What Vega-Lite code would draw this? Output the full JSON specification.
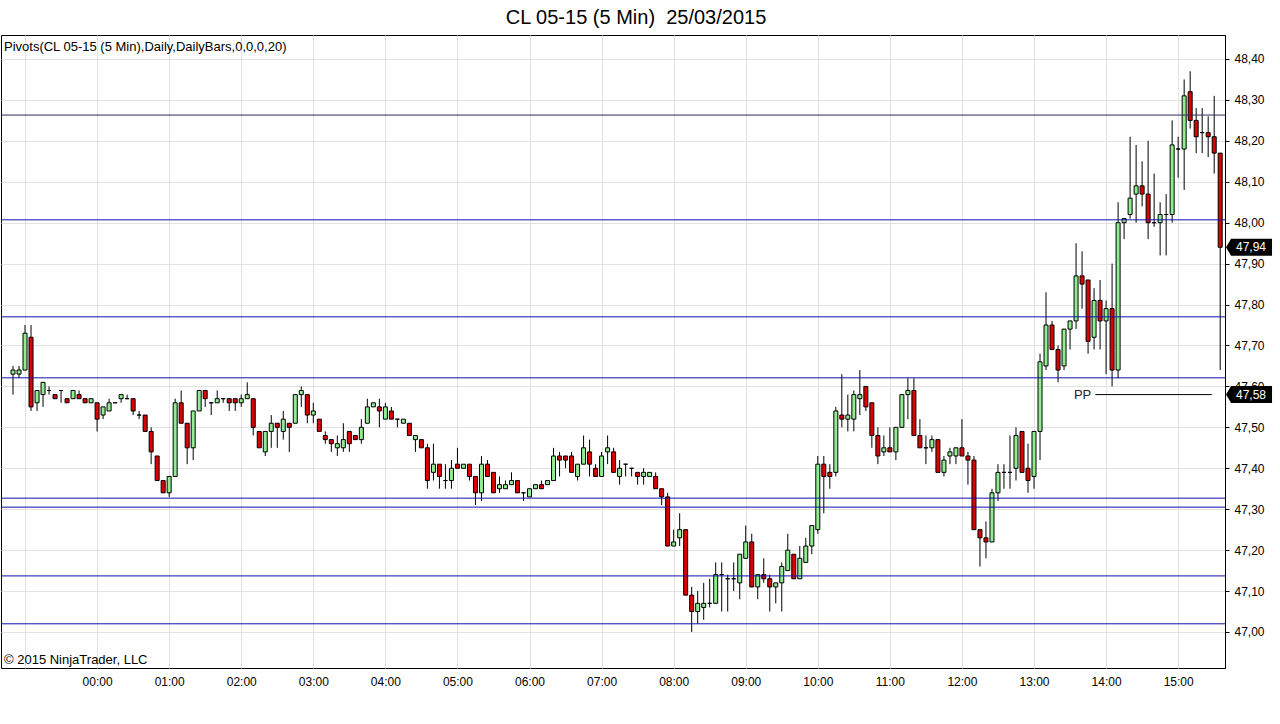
{
"$schema": "https://vega.github.io/schema/vega-lite/v6.json",
"width": 1224,
"height": 633,
"autosize": "none",
"padding": {"left": 1, "top": 35, "right": 55, "bottom": 56},
"background": "white",
"title": {"text": "CL 05-15 (5 Min)\u00a0 25/03/2015", "font": "Liberation Sans", "fontSize": 20, "fontWeight": "normal", "color": "#000", "anchor": "middle", "dx": 23, "offset": 7},
"config": {"view": {"stroke": "#000", "strokeWidth": 1}, "font": "Liberation Sans"},
"datasets": {
"bars": [
{"t":"2015-03-24T22:50","o":47.63,"h":47.65,"l":47.58,"c":47.64},
{"t":"2015-03-24T22:55","o":47.63,"h":47.65,"l":47.62,"c":47.64},
{"t":"2015-03-24T23:00","o":47.64,"h":47.75,"l":47.64,"c":47.73},
{"t":"2015-03-24T23:05","o":47.72,"h":47.75,"l":47.54,"c":47.55},
{"t":"2015-03-24T23:10","o":47.56,"h":47.59,"l":47.54,"c":47.59},
{"t":"2015-03-24T23:15","o":47.58,"h":47.61,"l":47.55,"c":47.61},
{"t":"2015-03-24T23:20","o":47.59,"h":47.60,"l":47.58,"c":47.59},
{"t":"2015-03-24T23:25","o":47.58,"h":47.58,"l":47.57,"c":47.57},
{"t":"2015-03-24T23:30","o":47.59,"h":47.59,"l":47.56,"c":47.59},
{"t":"2015-03-24T23:35","o":47.57,"h":47.57,"l":47.56,"c":47.56},
{"t":"2015-03-24T23:40","o":47.57,"h":47.59,"l":47.57,"c":47.59},
{"t":"2015-03-24T23:45","o":47.58,"h":47.59,"l":47.57,"c":47.57},
{"t":"2015-03-24T23:50","o":47.57,"h":47.57,"l":47.56,"c":47.56},
{"t":"2015-03-24T23:55","o":47.56,"h":47.57,"l":47.56,"c":47.57},
{"t":"2015-03-25T00:00","o":47.56,"h":47.56,"l":47.49,"c":47.52},
{"t":"2015-03-25T00:05","o":47.53,"h":47.55,"l":47.52,"c":47.55},
{"t":"2015-03-25T00:10","o":47.54,"h":47.57,"l":47.54,"c":47.56},
{"t":"2015-03-25T00:15","o":47.56,"h":47.56,"l":47.56,"c":47.56},
{"t":"2015-03-25T00:20","o":47.57,"h":47.58,"l":47.56,"c":47.58},
{"t":"2015-03-25T00:25","o":47.57,"h":47.58,"l":47.57,"c":47.57},
{"t":"2015-03-25T00:30","o":47.57,"h":47.57,"l":47.53,"c":47.54},
{"t":"2015-03-25T00:35","o":47.53,"h":47.54,"l":47.52,"c":47.53},
{"t":"2015-03-25T00:40","o":47.53,"h":47.53,"l":47.49,"c":47.49},
{"t":"2015-03-25T00:45","o":47.49,"h":47.50,"l":47.41,"c":47.44},
{"t":"2015-03-25T00:50","o":47.43,"h":47.43,"l":47.37,"c":47.37},
{"t":"2015-03-25T00:55","o":47.37,"h":47.37,"l":47.34,"c":47.34},
{"t":"2015-03-25T01:00","o":47.34,"h":47.38,"l":47.33,"c":47.38},
{"t":"2015-03-25T01:05","o":47.38,"h":47.57,"l":47.38,"c":47.56},
{"t":"2015-03-25T01:10","o":47.56,"h":47.59,"l":47.51,"c":47.51},
{"t":"2015-03-25T01:15","o":47.51,"h":47.51,"l":47.41,"c":47.45},
{"t":"2015-03-25T01:20","o":47.45,"h":47.54,"l":47.42,"c":47.54},
{"t":"2015-03-25T01:25","o":47.54,"h":47.59,"l":47.54,"c":47.59},
{"t":"2015-03-25T01:30","o":47.59,"h":47.59,"l":47.55,"c":47.57},
{"t":"2015-03-25T01:35","o":47.56,"h":47.56,"l":47.53,"c":47.56},
{"t":"2015-03-25T01:40","o":47.56,"h":47.59,"l":47.56,"c":47.57},
{"t":"2015-03-25T01:45","o":47.57,"h":47.57,"l":47.56,"c":47.57},
{"t":"2015-03-25T01:50","o":47.57,"h":47.57,"l":47.54,"c":47.56},
{"t":"2015-03-25T01:55","o":47.57,"h":47.57,"l":47.54,"c":47.56},
{"t":"2015-03-25T02:00","o":47.56,"h":47.58,"l":47.55,"c":47.57},
{"t":"2015-03-25T02:05","o":47.57,"h":47.61,"l":47.57,"c":47.58},
{"t":"2015-03-25T02:10","o":47.57,"h":47.57,"l":47.48,"c":47.50},
{"t":"2015-03-25T02:15","o":47.49,"h":47.49,"l":47.45,"c":47.45},
{"t":"2015-03-25T02:20","o":47.44,"h":47.49,"l":47.43,"c":47.49},
{"t":"2015-03-25T02:25","o":47.49,"h":47.53,"l":47.45,"c":47.51},
{"t":"2015-03-25T02:30","o":47.51,"h":47.51,"l":47.45,"c":47.50},
{"t":"2015-03-25T02:35","o":47.49,"h":47.54,"l":47.47,"c":47.52},
{"t":"2015-03-25T02:40","o":47.51,"h":47.51,"l":47.44,"c":47.50},
{"t":"2015-03-25T02:45","o":47.51,"h":47.58,"l":47.51,"c":47.58},
{"t":"2015-03-25T02:50","o":47.58,"h":47.60,"l":47.55,"c":47.59},
{"t":"2015-03-25T02:55","o":47.58,"h":47.58,"l":47.51,"c":47.53},
{"t":"2015-03-25T03:00","o":47.53,"h":47.56,"l":47.51,"c":47.54},
{"t":"2015-03-25T03:05","o":47.52,"h":47.52,"l":47.49,"c":47.49},
{"t":"2015-03-25T03:10","o":47.48,"h":47.49,"l":47.46,"c":47.47},
{"t":"2015-03-25T03:15","o":47.47,"h":47.47,"l":47.44,"c":47.46},
{"t":"2015-03-25T03:20","o":47.45,"h":47.48,"l":47.43,"c":47.46},
{"t":"2015-03-25T03:25","o":47.45,"h":47.51,"l":47.44,"c":47.47},
{"t":"2015-03-25T03:30","o":47.49,"h":47.49,"l":47.44,"c":47.46},
{"t":"2015-03-25T03:35","o":47.48,"h":47.48,"l":47.47,"c":47.47},
{"t":"2015-03-25T03:40","o":47.47,"h":47.52,"l":47.46,"c":47.50},
{"t":"2015-03-25T03:45","o":47.51,"h":47.57,"l":47.51,"c":47.55},
{"t":"2015-03-25T03:50","o":47.55,"h":47.56,"l":47.55,"c":47.56},
{"t":"2015-03-25T03:55","o":47.55,"h":47.57,"l":47.50,"c":47.54},
{"t":"2015-03-25T04:00","o":47.52,"h":47.56,"l":47.52,"c":47.55},
{"t":"2015-03-25T04:05","o":47.54,"h":47.55,"l":47.52,"c":47.52},
{"t":"2015-03-25T04:10","o":47.52,"h":47.52,"l":47.50,"c":47.52},
{"t":"2015-03-25T04:15","o":47.51,"h":47.52,"l":47.51,"c":47.52},
{"t":"2015-03-25T04:20","o":47.51,"h":47.51,"l":47.48,"c":47.48},
{"t":"2015-03-25T04:25","o":47.47,"h":47.48,"l":47.44,"c":47.48},
{"t":"2015-03-25T04:30","o":47.47,"h":47.47,"l":47.45,"c":47.45},
{"t":"2015-03-25T04:35","o":47.45,"h":47.46,"l":47.35,"c":47.37},
{"t":"2015-03-25T04:40","o":47.39,"h":47.46,"l":47.37,"c":47.41},
{"t":"2015-03-25T04:45","o":47.41,"h":47.41,"l":47.35,"c":47.38},
{"t":"2015-03-25T04:50","o":47.37,"h":47.41,"l":47.35,"c":47.37},
{"t":"2015-03-25T04:55","o":47.37,"h":47.42,"l":47.35,"c":47.40},
{"t":"2015-03-25T05:00","o":47.41,"h":47.45,"l":47.40,"c":47.40},
{"t":"2015-03-25T05:05","o":47.40,"h":47.41,"l":47.40,"c":47.41},
{"t":"2015-03-25T05:10","o":47.41,"h":47.41,"l":47.37,"c":47.38},
{"t":"2015-03-25T05:15","o":47.38,"h":47.38,"l":47.31,"c":47.34},
{"t":"2015-03-25T05:20","o":47.34,"h":47.43,"l":47.32,"c":47.41},
{"t":"2015-03-25T05:25","o":47.41,"h":47.42,"l":47.38,"c":47.38},
{"t":"2015-03-25T05:30","o":47.39,"h":47.39,"l":47.34,"c":47.34},
{"t":"2015-03-25T05:35","o":47.35,"h":47.38,"l":47.34,"c":47.36},
{"t":"2015-03-25T05:40","o":47.35,"h":47.37,"l":47.35,"c":47.36},
{"t":"2015-03-25T05:45","o":47.36,"h":47.39,"l":47.36,"c":47.37},
{"t":"2015-03-25T05:50","o":47.37,"h":47.37,"l":47.34,"c":47.34},
{"t":"2015-03-25T05:55","o":47.34,"h":47.34,"l":47.32,"c":47.34},
{"t":"2015-03-25T06:00","o":47.33,"h":47.35,"l":47.33,"c":47.35},
{"t":"2015-03-25T06:05","o":47.35,"h":47.36,"l":47.35,"c":47.36},
{"t":"2015-03-25T06:10","o":47.36,"h":47.37,"l":47.35,"c":47.35},
{"t":"2015-03-25T06:15","o":47.36,"h":47.37,"l":47.36,"c":47.37},
{"t":"2015-03-25T06:20","o":47.37,"h":47.45,"l":47.37,"c":47.43},
{"t":"2015-03-25T06:25","o":47.43,"h":47.44,"l":47.38,"c":47.42},
{"t":"2015-03-25T06:30","o":47.43,"h":47.43,"l":47.40,"c":47.42},
{"t":"2015-03-25T06:35","o":47.43,"h":47.44,"l":47.39,"c":47.39},
{"t":"2015-03-25T06:40","o":47.38,"h":47.41,"l":47.37,"c":47.41},
{"t":"2015-03-25T06:45","o":47.41,"h":47.48,"l":47.41,"c":47.45},
{"t":"2015-03-25T06:50","o":47.44,"h":47.47,"l":47.38,"c":47.41},
{"t":"2015-03-25T06:55","o":47.40,"h":47.41,"l":47.38,"c":47.38},
{"t":"2015-03-25T07:00","o":47.38,"h":47.44,"l":47.38,"c":47.43},
{"t":"2015-03-25T07:05","o":47.44,"h":47.48,"l":47.41,"c":47.45},
{"t":"2015-03-25T07:10","o":47.44,"h":47.45,"l":47.39,"c":47.39},
{"t":"2015-03-25T07:15","o":47.38,"h":47.42,"l":47.36,"c":47.40},
{"t":"2015-03-25T07:20","o":47.41,"h":47.41,"l":47.38,"c":47.41},
{"t":"2015-03-25T07:25","o":47.40,"h":47.40,"l":47.38,"c":47.40},
{"t":"2015-03-25T07:30","o":47.39,"h":47.39,"l":47.36,"c":47.38},
{"t":"2015-03-25T07:35","o":47.38,"h":47.40,"l":47.36,"c":47.39},
{"t":"2015-03-25T07:40","o":47.38,"h":47.39,"l":47.38,"c":47.39},
{"t":"2015-03-25T07:45","o":47.38,"h":47.39,"l":47.35,"c":47.35},
{"t":"2015-03-25T07:50","o":47.35,"h":47.35,"l":47.31,"c":47.33},
{"t":"2015-03-25T07:55","o":47.33,"h":47.34,"l":47.21,"c":47.21},
{"t":"2015-03-25T08:00","o":47.21,"h":47.25,"l":47.21,"c":47.22},
{"t":"2015-03-25T08:05","o":47.23,"h":47.29,"l":47.21,"c":47.25},
{"t":"2015-03-25T08:10","o":47.25,"h":47.25,"l":47.09,"c":47.09},
{"t":"2015-03-25T08:15","o":47.09,"h":47.11,"l":47.00,"c":47.05},
{"t":"2015-03-25T08:20","o":47.05,"h":47.10,"l":47.02,"c":47.07},
{"t":"2015-03-25T08:25","o":47.06,"h":47.12,"l":47.03,"c":47.07},
{"t":"2015-03-25T08:30","o":47.07,"h":47.13,"l":47.06,"c":47.07},
{"t":"2015-03-25T08:35","o":47.07,"h":47.17,"l":47.07,"c":47.14},
{"t":"2015-03-25T08:40","o":47.14,"h":47.17,"l":47.05,"c":47.14},
{"t":"2015-03-25T08:45","o":47.13,"h":47.14,"l":47.05,"c":47.13},
{"t":"2015-03-25T08:50","o":47.13,"h":47.17,"l":47.10,"c":47.13},
{"t":"2015-03-25T08:55","o":47.12,"h":47.19,"l":47.08,"c":47.19},
{"t":"2015-03-25T09:00","o":47.18,"h":47.26,"l":47.18,"c":47.22},
{"t":"2015-03-25T09:05","o":47.22,"h":47.24,"l":47.11,"c":47.11},
{"t":"2015-03-25T09:10","o":47.11,"h":47.14,"l":47.08,"c":47.14},
{"t":"2015-03-25T09:15","o":47.14,"h":47.18,"l":47.12,"c":47.13},
{"t":"2015-03-25T09:20","o":47.13,"h":47.14,"l":47.05,"c":47.11},
{"t":"2015-03-25T09:25","o":47.11,"h":47.12,"l":47.07,"c":47.12},
{"t":"2015-03-25T09:30","o":47.12,"h":47.17,"l":47.05,"c":47.16},
{"t":"2015-03-25T09:35","o":47.15,"h":47.24,"l":47.15,"c":47.20},
{"t":"2015-03-25T09:40","o":47.19,"h":47.19,"l":47.13,"c":47.13},
{"t":"2015-03-25T09:45","o":47.13,"h":47.21,"l":47.13,"c":47.18},
{"t":"2015-03-25T09:50","o":47.17,"h":47.23,"l":47.17,"c":47.21},
{"t":"2015-03-25T09:55","o":47.21,"h":47.26,"l":47.19,"c":47.26},
{"t":"2015-03-25T10:00","o":47.25,"h":47.43,"l":47.24,"c":47.41},
{"t":"2015-03-25T10:05","o":47.41,"h":47.43,"l":47.29,"c":47.38},
{"t":"2015-03-25T10:10","o":47.39,"h":47.41,"l":47.35,"c":47.38},
{"t":"2015-03-25T10:15","o":47.39,"h":47.55,"l":47.38,"c":47.54},
{"t":"2015-03-25T10:20","o":47.53,"h":47.63,"l":47.50,"c":47.52},
{"t":"2015-03-25T10:25","o":47.52,"h":47.58,"l":47.49,"c":47.53},
{"t":"2015-03-25T10:30","o":47.52,"h":47.59,"l":47.49,"c":47.58},
{"t":"2015-03-25T10:35","o":47.57,"h":47.64,"l":47.53,"c":47.58},
{"t":"2015-03-25T10:40","o":47.60,"h":47.60,"l":47.54,"c":47.55},
{"t":"2015-03-25T10:45","o":47.56,"h":47.56,"l":47.45,"c":47.48},
{"t":"2015-03-25T10:50","o":47.48,"h":47.50,"l":47.41,"c":47.43},
{"t":"2015-03-25T10:55","o":47.44,"h":47.48,"l":47.43,"c":47.45},
{"t":"2015-03-25T11:00","o":47.45,"h":47.50,"l":47.44,"c":47.44},
{"t":"2015-03-25T11:05","o":47.44,"h":47.50,"l":47.42,"c":47.50},
{"t":"2015-03-25T11:10","o":47.50,"h":47.58,"l":47.50,"c":47.58},
{"t":"2015-03-25T11:15","o":47.58,"h":47.62,"l":47.52,"c":47.59},
{"t":"2015-03-25T11:20","o":47.59,"h":47.62,"l":47.48,"c":47.48},
{"t":"2015-03-25T11:25","o":47.48,"h":47.52,"l":47.45,"c":47.45},
{"t":"2015-03-25T11:30","o":47.45,"h":47.48,"l":47.41,"c":47.45},
{"t":"2015-03-25T11:35","o":47.45,"h":47.48,"l":47.44,"c":47.47},
{"t":"2015-03-25T11:40","o":47.47,"h":47.47,"l":47.39,"c":47.39},
{"t":"2015-03-25T11:45","o":47.39,"h":47.43,"l":47.38,"c":47.42},
{"t":"2015-03-25T11:50","o":47.43,"h":47.45,"l":47.41,"c":47.44},
{"t":"2015-03-25T11:55","o":47.43,"h":47.45,"l":47.41,"c":47.45},
{"t":"2015-03-25T12:00","o":47.45,"h":47.52,"l":47.43,"c":47.43},
{"t":"2015-03-25T12:05","o":47.43,"h":47.44,"l":47.36,"c":47.42},
{"t":"2015-03-25T12:10","o":47.42,"h":47.43,"l":47.25,"c":47.25},
{"t":"2015-03-25T12:15","o":47.25,"h":47.25,"l":47.16,"c":47.23},
{"t":"2015-03-25T12:20","o":47.23,"h":47.27,"l":47.18,"c":47.22},
{"t":"2015-03-25T12:25","o":47.22,"h":47.35,"l":47.22,"c":47.34},
{"t":"2015-03-25T12:30","o":47.34,"h":47.41,"l":47.32,"c":47.39},
{"t":"2015-03-25T12:35","o":47.39,"h":47.41,"l":47.35,"c":47.39},
{"t":"2015-03-25T12:40","o":47.39,"h":47.48,"l":47.35,"c":47.39},
{"t":"2015-03-25T12:45","o":47.40,"h":47.50,"l":47.37,"c":47.48},
{"t":"2015-03-25T12:50","o":47.49,"h":47.49,"l":47.39,"c":47.39},
{"t":"2015-03-25T12:55","o":47.40,"h":47.46,"l":47.34,"c":47.37},
{"t":"2015-03-25T13:00","o":47.38,"h":47.49,"l":47.35,"c":47.49},
{"t":"2015-03-25T13:05","o":47.49,"h":47.68,"l":47.42,"c":47.66},
{"t":"2015-03-25T13:10","o":47.65,"h":47.83,"l":47.64,"c":47.75},
{"t":"2015-03-25T13:15","o":47.75,"h":47.76,"l":47.69,"c":47.69},
{"t":"2015-03-25T13:20","o":47.69,"h":47.70,"l":47.61,"c":47.64},
{"t":"2015-03-25T13:25","o":47.65,"h":47.74,"l":47.64,"c":47.74},
{"t":"2015-03-25T13:30","o":47.74,"h":47.76,"l":47.69,"c":47.76},
{"t":"2015-03-25T13:35","o":47.76,"h":47.95,"l":47.74,"c":47.87},
{"t":"2015-03-25T13:40","o":47.87,"h":47.93,"l":47.79,"c":47.85},
{"t":"2015-03-25T13:45","o":47.86,"h":47.86,"l":47.68,"c":47.71},
{"t":"2015-03-25T13:50","o":47.72,"h":47.84,"l":47.69,"c":47.81},
{"t":"2015-03-25T13:55","o":47.81,"h":47.86,"l":47.69,"c":47.76},
{"t":"2015-03-25T14:00","o":47.76,"h":47.81,"l":47.63,"c":47.79},
{"t":"2015-03-25T14:05","o":47.79,"h":47.90,"l":47.60,"c":47.64},
{"t":"2015-03-25T14:10","o":47.64,"h":48.05,"l":47.62,"c":48.00},
{"t":"2015-03-25T14:15","o":48.00,"h":48.01,"l":47.96,"c":48.01},
{"t":"2015-03-25T14:20","o":48.02,"h":48.21,"l":48.01,"c":48.06},
{"t":"2015-03-25T14:25","o":48.07,"h":48.19,"l":48.00,"c":48.09},
{"t":"2015-03-25T14:30","o":48.09,"h":48.15,"l":48.04,"c":48.07},
{"t":"2015-03-25T14:35","o":48.07,"h":48.20,"l":47.96,"c":48.00},
{"t":"2015-03-25T14:40","o":48.00,"h":48.12,"l":47.99,"c":48.00},
{"t":"2015-03-25T14:45","o":48.00,"h":48.05,"l":47.92,"c":48.02},
{"t":"2015-03-25T14:50","o":48.02,"h":48.07,"l":47.92,"c":48.02},
{"t":"2015-03-25T14:55","o":48.02,"h":48.25,"l":48.00,"c":48.19},
{"t":"2015-03-25T15:00","o":48.18,"h":48.21,"l":48.11,"c":48.18},
{"t":"2015-03-25T15:05","o":48.18,"h":48.35,"l":48.08,"c":48.31},
{"t":"2015-03-25T15:10","o":48.32,"h":48.37,"l":48.23,"c":48.25},
{"t":"2015-03-25T15:15","o":48.25,"h":48.28,"l":48.17,"c":48.21},
{"t":"2015-03-25T15:20","o":48.22,"h":48.28,"l":48.17,"c":48.22},
{"t":"2015-03-25T15:25","o":48.22,"h":48.26,"l":48.16,"c":48.21},
{"t":"2015-03-25T15:30","o":48.21,"h":48.31,"l":48.12,"c":48.17},
{"t":"2015-03-25T15:35","o":48.17,"h":48.17,"l":47.64,"c":47.94}
],
"levels": [{"v":48.263},{"v":48.007},{"v":47.770},{"v":47.621},{"v":47.327},{"v":47.305},{"v":47.137},{"v":47.020}],
"markers": [{"p":47.94,"label":"47,94"},{"p":47.58,"label":"47,58"}]
},
"layer": [
{
"data": {"name": "bars"},
"mark": {"type": "rule", "color": "#000", "strokeWidth": 1},
"encoding": {
"x": {"field": "t", "type": "temporal",
"scale": {"domain": [{"year":2015,"month":3,"date":24,"hours":22,"minutes":40},{"year":2015,"month":3,"date":25,"hours":15,"minutes":39}], "nice": false, "padding": 0},
"axis": {"title": null, "grid": true, "gridColor": "#e2e2e2", "domain": false, "ticks": false, "labelPadding": 8, "labelFont": "Liberation Sans", "labelFontSize": 12, "labelColor": "#000",
"values": [{"year":2015,"month":3,"date":24,"hours":23},{"year":2015,"month":3,"date":25,"hours":0},{"year":2015,"month":3,"date":25,"hours":1},{"year":2015,"month":3,"date":25,"hours":2},{"year":2015,"month":3,"date":25,"hours":3},{"year":2015,"month":3,"date":25,"hours":4},{"year":2015,"month":3,"date":25,"hours":5},{"year":2015,"month":3,"date":25,"hours":6},{"year":2015,"month":3,"date":25,"hours":7},{"year":2015,"month":3,"date":25,"hours":8},{"year":2015,"month":3,"date":25,"hours":9},{"year":2015,"month":3,"date":25,"hours":10},{"year":2015,"month":3,"date":25,"hours":11},{"year":2015,"month":3,"date":25,"hours":12},{"year":2015,"month":3,"date":25,"hours":13},{"year":2015,"month":3,"date":25,"hours":14},{"year":2015,"month":3,"date":25,"hours":15}],
"labelExpr": "timeFormat(datum.value, '%H') == '23' ? '' : timeFormat(datum.value, '%H:%M')", "labelFlush": false, "labelOverlap": false}},
"y": {"field": "l", "type": "quantitative",
"scale": {"domain": [46.912, 48.4586], "zero": false, "nice": false, "padding": 0},
"axis": {"orient": "right", "title": null, "values": [47.0,47.1,47.2,47.3,47.4,47.5,47.6,47.7,47.8,47.9,48.0,48.1,48.2,48.3,48.4], "grid": true, "gridColor": "#e2e2e2", "domainColor": "#000", "tickColor": "#000", "tickSize": 4, "labelPadding": 5, "labelFont": "Liberation Sans", "labelFontSize": 12, "labelColor": "#000", "labelExpr": "replace(format(datum.value, '.2f'), '.', ',')"}},
"y2": {"field": "h"}
}
},
{
"data": {"name": "bars"},
"mark": {"type": "bar", "width": 4, "stroke": "#000", "strokeWidth": 1},
"encoding": {
"x": {"field": "t", "type": "temporal"},
"y": {"field": "o", "type": "quantitative"},
"y2": {"field": "c"},
"fill": {"condition": {"test": "datum.c < datum.o", "value": "#dc0000"}, "value": "#90ee90"}
}
},
{
"data": {"name": "levels"},
"mark": {"type": "rule", "strokeWidth": 1},
"encoding": {
"y": {"field": "v", "type": "quantitative"},
"color": {"condition": {"test": "datum.v > 48.2", "value": "#2a2a5e"}, "value": "#1010a8"}
}
},
{
"data": {"values": [{}]},
"mark": {"type": "rule", "color": "#000", "strokeWidth": 1},
"encoding": {
"x": {"datum": {"year":2015,"month":3,"date":25,"hours":13,"minutes":51}, "type": "temporal"},
"x2": {"datum": {"year":2015,"month":3,"date":25,"hours":15,"minutes":28}},
"y": {"datum": 47.58, "type": "quantitative"}
}
},
{
"data": {"values": [{}]},
"mark": {"type": "text", "align": "right", "baseline": "middle", "dx": -4, "font": "Liberation Sans", "fontSize": 13, "color": "#222"},
"encoding": {
"x": {"datum": {"year":2015,"month":3,"date":25,"hours":13,"minutes":51}, "type": "temporal"},
"y": {"datum": 47.58, "type": "quantitative"},
"text": {"value": "PP"}
}
},
{
"data": {"values": [{}]},
"mark": {"type": "text", "align": "left", "baseline": "middle", "dx": 3, "font": "Liberation Sans", "fontSize": 13, "color": "#000"},
"encoding": {
"x": {"datum": {"year":2015,"month":3,"date":24,"hours":22,"minutes":40}, "type": "temporal"},
"y": {"datum": 48.4293, "type": "quantitative"},
"text": {"value": "Pivots(CL 05-15 (5 Min),Daily,DailyBars,0,0,0,20)"}
}
},
{
"data": {"values": [{}]},
"mark": {"type": "text", "align": "left", "baseline": "middle", "dx": 3, "font": "Liberation Sans", "fontSize": 13, "color": "#000"},
"encoding": {
"x": {"datum": {"year":2015,"month":3,"date":24,"hours":22,"minutes":40}, "type": "temporal"},
"y": {"datum": 46.9316, "type": "quantitative"},
"text": {"value": "© 2015 NinjaTrader, LLC"}
}
},
{
"data": {"name": "markers"},
"mark": {"type": "point", "shape": "M-1,0L-0.78,-0.37L1,-0.37L1,0.37L-0.78,0.37Z", "size": 2116, "filled": true, "fill": "#000", "opacity": 1, "strokeWidth": 0},
"encoding": {
"x": {"datum": {"year":2015,"month":3,"date":25,"hours":15,"minutes":59}, "type": "temporal"},
"y": {"field": "p", "type": "quantitative"}
}
},
{
"data": {"name": "markers"},
"mark": {"type": "text", "align": "center", "baseline": "middle", "dx": 2, "font": "Liberation Sans", "fontSize": 12, "color": "#fff"},
"encoding": {
"x": {"datum": {"year":2015,"month":3,"date":25,"hours":15,"minutes":59}, "type": "temporal"},
"y": {"field": "p", "type": "quantitative"},
"text": {"field": "label"}
}
}
]
}
